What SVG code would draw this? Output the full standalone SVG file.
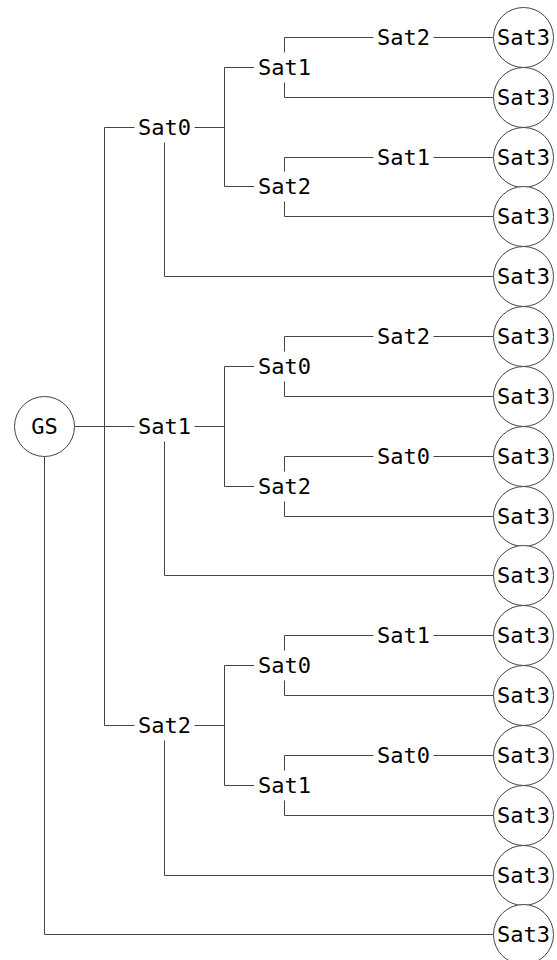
<svg xmlns="http://www.w3.org/2000/svg" width="557" height="960" viewBox="0 0 557 960">
  <style>
    .wire { fill: none; stroke: #444; stroke-width: 1; }
    .ring { fill: #fff; stroke: #444; stroke-width: 1; }
    .lbl { font-family: "DejaVu Sans Mono", "Liberation Mono", monospace; font-size: 22px; fill: #000; text-anchor: middle; }
  </style>
  <rect width="557" height="960" fill="#fff"/>

  <!-- elbow connectors of the relay tree -->
  <g id="connectors" class="wire">
    <!-- ground station -->
    <path d="M74.5 426.5 H134.5"/>
    <path d="M134.5 127.5 H104.5 V725.5 H134.5"/>
    <path d="M44.5 456.5 V934.5 H493.5"/>

    <!-- branch Sat0 -->
    <path d="M194.5 127.5 H224.5"/>
    <path d="M254 67.5 H224.5 V186.5 H254"/>
    <path d="M164.5 142.5 V276.5 H493.5"/>
    <path d="M284.5 52.5 V37.5 H373.5"/>
    <path d="M284.5 82.5 V97.5 H493.5"/>
    <path d="M433.5 37.5 H493.5"/>
    <path d="M284.5 171.5 V157.5 H373.5"/>
    <path d="M284.5 201.5 V216.5 H493.5"/>
    <path d="M433.5 157.5 H493.5"/>

    <!-- branch Sat1 -->
    <path d="M194.5 426.5 H224.5"/>
    <path d="M254 366.5 H224.5 V486.5 H254"/>
    <path d="M164.5 441.5 V575.5 H493.5"/>
    <path d="M284.5 351.5 V336.5 H373.5"/>
    <path d="M284.5 381.5 V396.5 H493.5"/>
    <path d="M433.5 336.5 H493.5"/>
    <path d="M284.5 471.5 V456.5 H373.5"/>
    <path d="M284.5 501.5 V516.5 H493.5"/>
    <path d="M433.5 456.5 H493.5"/>

    <!-- branch Sat2 -->
    <path d="M194.5 725.5 H224.5"/>
    <path d="M254 665.5 H224.5 V785.5 H254"/>
    <path d="M164.5 740.5 V875.5 H493.5"/>
    <path d="M284.5 650.5 V635.5 H373.5"/>
    <path d="M284.5 680.5 V695.5 H493.5"/>
    <path d="M433.5 635.5 H493.5"/>
    <path d="M284.5 770.5 V755.5 H373.5"/>
    <path d="M284.5 800.5 V815.5 H493.5"/>
    <path d="M433.5 755.5 H493.5"/>
  </g>

  <!-- root -->
  <g id="gs">
    <circle class="ring" cx="44.5" cy="426.5" r="30"/>
    <text class="lbl" x="44.5" y="433.5">GS</text>
  </g>

  <!-- first hop -->
  <g id="a-sat0"><text class="lbl" x="164.5" y="134.5">Sat0</text></g>
  <g id="b-sat1"><text class="lbl" x="164.5" y="433.5">Sat1</text></g>
  <g id="c-sat2"><text class="lbl" x="164.5" y="732.5">Sat2</text></g>

  <!-- second hop -->
  <g id="a-sat1"><text class="lbl" x="284.5" y="74.5">Sat1</text></g>
  <g id="a-sat2"><text class="lbl" x="284.5" y="193.5">Sat2</text></g>
  <g id="b-sat0"><text class="lbl" x="284.5" y="373.5">Sat0</text></g>
  <g id="b-sat2"><text class="lbl" x="284.5" y="493.5">Sat2</text></g>
  <g id="c-sat0"><text class="lbl" x="284.5" y="672.5">Sat0</text></g>
  <g id="c-sat1"><text class="lbl" x="284.5" y="792.5">Sat1</text></g>

  <!-- third hop -->
  <g id="a1-sat2"><text class="lbl" x="403.5" y="44.5">Sat2</text></g>
  <g id="a2-sat1"><text class="lbl" x="403.5" y="164.5">Sat1</text></g>
  <g id="b0-sat2"><text class="lbl" x="403.5" y="343.5">Sat2</text></g>
  <g id="b2-sat0"><text class="lbl" x="403.5" y="463.5">Sat0</text></g>
  <g id="c0-sat1"><text class="lbl" x="403.5" y="642.5">Sat1</text></g>
  <g id="c1-sat0"><text class="lbl" x="403.5" y="762.5">Sat0</text></g>

  <!-- destination Sat3 leaves -->
  <g id="leaf-0"><circle class="ring" cx="523.5" cy="37.5" r="30"/><text class="lbl" x="523.5" y="44.5">Sat3</text></g>
  <g id="leaf-1"><circle class="ring" cx="523.5" cy="97.5" r="30"/><text class="lbl" x="523.5" y="104.5">Sat3</text></g>
  <g id="leaf-2"><circle class="ring" cx="523.5" cy="157.5" r="30"/><text class="lbl" x="523.5" y="164.5">Sat3</text></g>
  <g id="leaf-3"><circle class="ring" cx="523.5" cy="216.5" r="30"/><text class="lbl" x="523.5" y="223.5">Sat3</text></g>
  <g id="leaf-4"><circle class="ring" cx="523.5" cy="276.5" r="30"/><text class="lbl" x="523.5" y="283.5">Sat3</text></g>
  <g id="leaf-5"><circle class="ring" cx="523.5" cy="336.5" r="30"/><text class="lbl" x="523.5" y="343.5">Sat3</text></g>
  <g id="leaf-6"><circle class="ring" cx="523.5" cy="396.5" r="30"/><text class="lbl" x="523.5" y="403.5">Sat3</text></g>
  <g id="leaf-7"><circle class="ring" cx="523.5" cy="456.5" r="30"/><text class="lbl" x="523.5" y="463.5">Sat3</text></g>
  <g id="leaf-8"><circle class="ring" cx="523.5" cy="516.5" r="30"/><text class="lbl" x="523.5" y="523.5">Sat3</text></g>
  <g id="leaf-9"><circle class="ring" cx="523.5" cy="575.5" r="30"/><text class="lbl" x="523.5" y="582.5">Sat3</text></g>
  <g id="leaf-10"><circle class="ring" cx="523.5" cy="635.5" r="30"/><text class="lbl" x="523.5" y="642.5">Sat3</text></g>
  <g id="leaf-11"><circle class="ring" cx="523.5" cy="695.5" r="30"/><text class="lbl" x="523.5" y="702.5">Sat3</text></g>
  <g id="leaf-12"><circle class="ring" cx="523.5" cy="755.5" r="30"/><text class="lbl" x="523.5" y="762.5">Sat3</text></g>
  <g id="leaf-13"><circle class="ring" cx="523.5" cy="815.5" r="30"/><text class="lbl" x="523.5" y="822.5">Sat3</text></g>
  <g id="leaf-14"><circle class="ring" cx="523.5" cy="875.5" r="30"/><text class="lbl" x="523.5" y="882.5">Sat3</text></g>
  <g id="leaf-15"><circle class="ring" cx="523.5" cy="934.5" r="30"/><text class="lbl" x="523.5" y="941.5">Sat3</text></g>
</svg>
